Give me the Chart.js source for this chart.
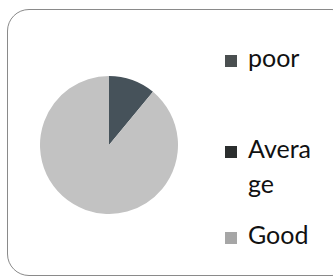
<!DOCTYPE html>
<html>
<head>
<meta charset="utf-8">
<script src="https://cdn.jsdelivr.net/npm/chart.js@4"></script>
<style>
  html, body { margin: 0; padding: 0; background: #fff; }
  body { width: 333px; height: 278px; position: relative; overflow: hidden; font-family: Lato, "Open Sans", sans-serif; }
  .frame { position: absolute; left: 7px; top: 9px; width: 345px; height: 265px; border: 1px solid #8a8a8a; border-radius: 22px; }
  .pie { position: absolute; left: 40px; top: 76px; width: 138px; height: 138px; }
  #legend { position: absolute; left: 225px; top: 40px; width: 105px; }
  .item { position: relative; padding-left: 23px; width: 76px; font-size: 25px; line-height: 35px; color: #111; word-break: break-all; }
  .item .box { position: absolute; left: 0; top: 15px; width: 12px; height: 12px; }
</style>
</head>
<body>
<div class="frame"></div>
<div class="pie"><canvas id="pieChart"></canvas></div>
<div id="legend"></div>
<script>
// data
const labels = ['poor', 'Average', 'Good'];
const values = [11, 0, 89];
const colors = ['#46525a', '#2b2e2e', '#c2c2c2'];
const legendColors = ['#4a4f50', '#2b2e2e', '#a6a6a6'];

new Chart(document.getElementById('pieChart').getContext('2d'), {
    type: 'pie',
    data: {
        labels: labels,
        datasets: [{
            data: values,
            backgroundColor: colors,
            borderWidth: 0
        }]
    },
    options: {
        responsive: true,
        maintainAspectRatio: true,
        animation: false,
        layout: { padding: 0 },
        plugins: {
            legend: { display: false },
            tooltip: { enabled: false }
        }
    }
});

// legend manual supaya "Average" bisa terpotong seperti aslinya
const legend = document.getElementById('legend');
const gaps = ['56px', '16px', '0px'];
labels.forEach((label, i) => {
    const item = document.createElement('div');
    item.className = 'item';
    item.style.marginBottom = gaps[i];
    item.innerHTML = `<span class="box" style="background:${legendColors[i]}"></span>${label}`;
    legend.appendChild(item);
});
</script>
</body>
</html>
